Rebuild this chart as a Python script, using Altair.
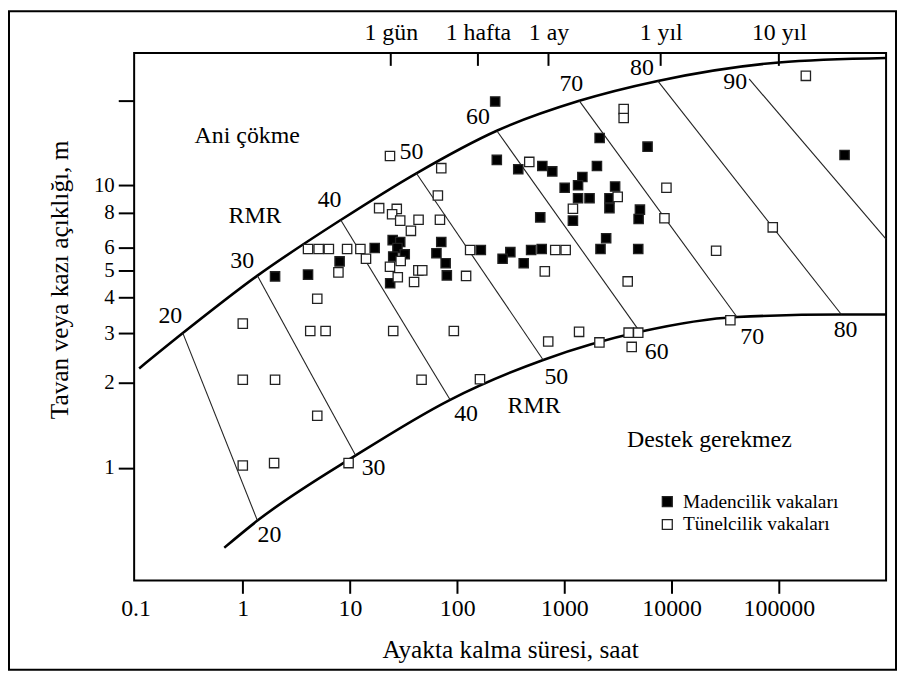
import altair as alt
import pandas as pd

FONT = "Liberation Serif"
MAD = "Madencilik vakaları"
TUN = "Tünelcilik vakaları"

# ---- Madencilik vakaları (dolu kareler): ayakta kalma süresi (saat), açıklık (m)
mad_saat = [2, 4.06, 8, 17, 25, 29.4, 27.7, 32.4, 25.3, 23.7,
            71, 64, 78, 80, 166, 234, 371, 622, 770, 595,
            313, 265, 417, 489, 614, 2130, 5960, 410000, 2010, 1470,
            1005, 1340, 2970, 1340, 1715, 2630, 2630, 1200, 5060, 4920,
            2450, 2170, 4880, 226]
mad_acik = [4.76, 4.83, 5.38, 6.0, 6.4, 6.3, 6.0, 5.7, 5.6, 4.5,
            6.3, 5.75, 5.3, 4.8, 5.9, 12.3, 11.4, 11.7, 11.2, 7.7,
            5.8, 5.5, 5.3, 5.9, 5.95, 14.7, 13.7, 12.8, 11.7, 10.7,
            9.8, 10.0, 9.9, 9.0, 9.0, 9.0, 8.3, 7.5, 8.2, 7.6,
            6.5, 5.95, 5.95, 19.8]

# ---- Tünelcilik vakaları (boş kareler)
tun_saat = [23.6, 71, 470, 66, 18.7, 27.3, 24.7, 29.4, 43.6, 69,
            37, 12.5, 14.1, 132, 29.7, 23.6, 43.4, 47.2, 27.9, 39.6,
            121, 656, 821, 1027, 25.3, 93, 706, 4.06, 5.1, 6.35,
            9.4, 7.8, 4.95, 1.0, 4.26, 5.92, 1.0, 2.0, 46.5, 4.95,
            1.0, 1.96, 9.7, 163, 1200, 3140, 8940, 8570, 87700, 26000,
            3890, 1370, 2120, 3970, 4880, 4240, 35300, 178500, 3570, 3570]
tun_acik = [12.7, 11.5, 12.1, 9.2, 8.3, 8.25, 7.9, 7.5, 7.55, 7.55,
            6.9, 5.95, 5.5, 5.9, 5.4, 5.15, 5.0, 5.0, 4.73, 4.55,
            4.78, 4.96, 5.9, 5.9, 3.05, 3.05, 2.8, 5.95, 5.95, 5.95,
            5.95, 4.92, 3.97, 3.24, 3.05, 3.05, 2.05, 2.05, 2.05, 1.53,
            1.02, 1.04, 1.04, 2.06, 8.26, 9.1, 9.8, 7.65, 7.1, 5.87,
            4.57, 3.03, 2.78, 3.01, 3.01, 2.68, 3.33, 24.4, 18.6, 17.3]

# ---- Sınır eğrileri
ust_egri_saat = [0.108, 0.276, 1.37, 8.2, 41.6, 234, 1376, 7420, 100000, 1000000]
ust_egri_acik = [2.25, 3.0, 4.79, 7.54, 11.03, 15.6, 19.9, 23.4, 27.2, 28.2]
alt_egri_saat = [0.672, 1.37, 11.3, 85.9, 634, 5060, 40700, 383000, 1000000]
alt_egri_acik = [0.522, 0.651, 1.107, 1.742, 2.41, 3.03, 3.42, 3.49, 3.49]

# ---- RMR çizgileri
rmr_deger = [20, 30, 40, 50, 60, 70, 80, 90]
rmr_ust_saat = [0.276, 1.37, 8.2, 41.6, 234, 1376, 7420, 52800]
rmr_ust_acik = [3.0, 4.79, 7.54, 11.03, 15.6, 19.9, 23.4, 23.8]
rmr_alt_saat = [1.37, 11.3, 85.9, 634, 5060, 40700, 383000, 1000000]
rmr_alt_acik = [0.651, 1.107, 1.742, 2.41, 3.03, 3.42, 3.49, 6.45]

# ---- Etiketler
ust_etiket = ["20", "30", "40", "50", "60", "70", "80", "90"]
ust_etiket_saat = [0.211, 0.986, 6.45, 37.4, 156, 1160, 5280, 39200]
ust_etiket_acik = [3.44, 5.41, 8.89, 13.07, 17.5, 22.9, 26.0, 23.2]
alt_etiket = ["20", "30", "40", "50", "60", "70", "80"]
alt_etiket_saat = [1.77, 16.6, 121, 841, 7260, 56400, 419000]
alt_etiket_acik = [0.58, 1.0, 1.556, 2.10, 2.57, 2.90, 3.07]
bolge_etiket = ["Ani çökme", "RMR", "RMR", "Destek gerekmez"]
bolge_saat = [1.10, 1.30, 521, 22500]
bolge_acik = [14.9, 7.79, 1.66, 1.26]

# ---- Eksenler
x_tick = [0.1, 1, 10, 100, 1000, 10000, 100000]
y_tick = [1, 2, 3, 4, 5, 6, 8, 10, 20]
ust_tick_saat = [24, 156, 710, 7900, 100000]
ust_tick_etiket = ["1 gün", "1 hafta", "1 ay", "1 yıl", "10 yıl"]

W, H = 757, 531
xs = alt.Scale(type="log", domain=[0.097, 1000000], nice=False)
ys = alt.Scale(type="log", domain=[0.4, 29.4], nice=False)

pts = pd.DataFrame({
    "saat": mad_saat + tun_saat,
    "acik": mad_acik + tun_acik,
    "tip": [MAD] * len(mad_saat) + [TUN] * len(tun_saat),
})
ust_df = pd.DataFrame({"saat": ust_egri_saat, "acik": ust_egri_acik})
alt_df = pd.DataFrame({"saat": alt_egri_saat, "acik": alt_egri_acik})
rmr_df = pd.DataFrame({"rmr": rmr_deger, "saat": rmr_ust_saat, "acik": rmr_ust_acik,
                       "saat2": rmr_alt_saat, "acik2": rmr_alt_acik})
txt_df = pd.DataFrame({
    "saat": ust_etiket_saat + alt_etiket_saat + bolge_saat,
    "acik": ust_etiket_acik + alt_etiket_acik + bolge_acik,
    "metin": ust_etiket + alt_etiket + bolge_etiket,
})
ust_tick_df = pd.DataFrame({"saat": ust_tick_saat})

x_axis = alt.Axis(
    values=x_tick, labelExpr="'' + datum.value", title="Ayakta kalma süresi, saat",
    orient="bottom", tickSize=13, tickWidth=2, labelOverlap=False,
    tickColor={"condition": {"test": "datum.value < 0.5", "value": "transparent"}, "value": "black"},
    labelPadding=3, labelFontSize=24, titleFontSize=25.5, titleY=78, titleBaseline="alphabetic",
)
y_axis = alt.Axis(
    values=y_tick, labelExpr="datum.value >= 20 ? '' : '' + datum.value",
    title="Tavan veya kazı açıklığı, m", tickSize=16, tickWidth=2, labelPadding=4,
    labelOverlap=False, labelFontSize=21, titleFontSize=25.5, titleX=-67, titleY=228,
    titleAngle=-90, titleBaseline="alphabetic", titleAlign="center",
)
ust_expr = " : ".join(f"datum.value == {v} ? '{t}'" for v, t in zip(ust_tick_saat, ust_tick_etiket)) + " : ''"
top_axis = alt.Axis(
    orient="top", values=ust_tick_saat, labelExpr=ust_expr, ticks=False, tickSize=0,
    labelPadding=9, labelFontSize=24, labelOverlap=False, title=None,
)


def Y(field="acik:Q"):
    return alt.Y(field, scale=ys, axis=y_axis)


cerceve = alt.Chart(pd.DataFrame({"k": [0]})).mark_rect(
    fillOpacity=0, stroke="black", strokeWidth=2
).encode(x=alt.value(-126), x2=alt.value(767), y=alt.value(-42), y2=alt.value(621))

ust_cizgi = alt.Chart(ust_df).mark_line(color="black", strokeWidth=2.6, interpolate="monotone").encode(
    x=alt.X("saat:Q", scale=xs, axis=None), y=Y())
alt_cizgi = alt.Chart(alt_df).mark_line(color="black", strokeWidth=2.6, interpolate="monotone").encode(
    x=alt.X("saat:Q", scale=xs, axis=None), y=Y())

rmr_cizgi = alt.Chart(rmr_df).mark_rule(color="#222", strokeWidth=1.1).encode(
    x=alt.X("saat:Q", scale=xs, axis=None), y=Y(),
    x2="saat2:Q", y2="acik2:Q")

metin = alt.Chart(txt_df).mark_text(font=FONT, fontSize=24, align="center", baseline="middle",
                                    color="black").encode(
    x=alt.X("saat:Q", scale=xs, axis=None), y=Y(), text="metin:N")

ust_ticks = alt.Chart(ust_tick_df).mark_rule(color="black", strokeWidth=2).encode(
    x=alt.X("saat:Q", scale=xs, axis=top_axis), y=alt.value(0), y2=alt.value(13))

noktalar = alt.Chart(pts).mark_point(
    shape="square", filled=True, size=88, stroke="#222", strokeWidth=1.3, opacity=1
).encode(
    x=alt.X("saat:Q", scale=xs, axis=x_axis),
    y=Y(),
    fill=alt.Fill("tip:N", scale=alt.Scale(domain=[MAD, TUN], range=["#000000", "#ffffff"]),
                  legend=alt.Legend(orient="none", legendX=527, legendY=442, title=None,
                                    symbolType="square", symbolSize=100, symbolStrokeColor="#222",
                                    symbolStrokeWidth=1.3, symbolOpacity=1, labelFont=FONT,
                                    labelFontSize=19.5, labelColor="black", labelOffset=6,
                                    labelLimit=0, rowPadding=2)),
)

chart = alt.layer(cerceve, ust_cizgi, alt_cizgi, rmr_cizgi, metin, ust_ticks, noktalar).resolve_axis(
    x="independent"
).properties(
    width=W, height=H,
    autosize=alt.AutoSizeParams(type="none"),
    padding={"left": 127, "top": 43, "right": 11, "bottom": 92},
    background="white",
).configure_view(
    stroke="black", strokeWidth=2
).configure_axis(
    grid=False, domain=False, labelFont=FONT, titleFont=FONT, labelColor="black",
    titleColor="black", tickColor="black", titleFontWeight="normal",
)

chart.save("out.html", embed_options={"renderer": "svg", "actions": False})
